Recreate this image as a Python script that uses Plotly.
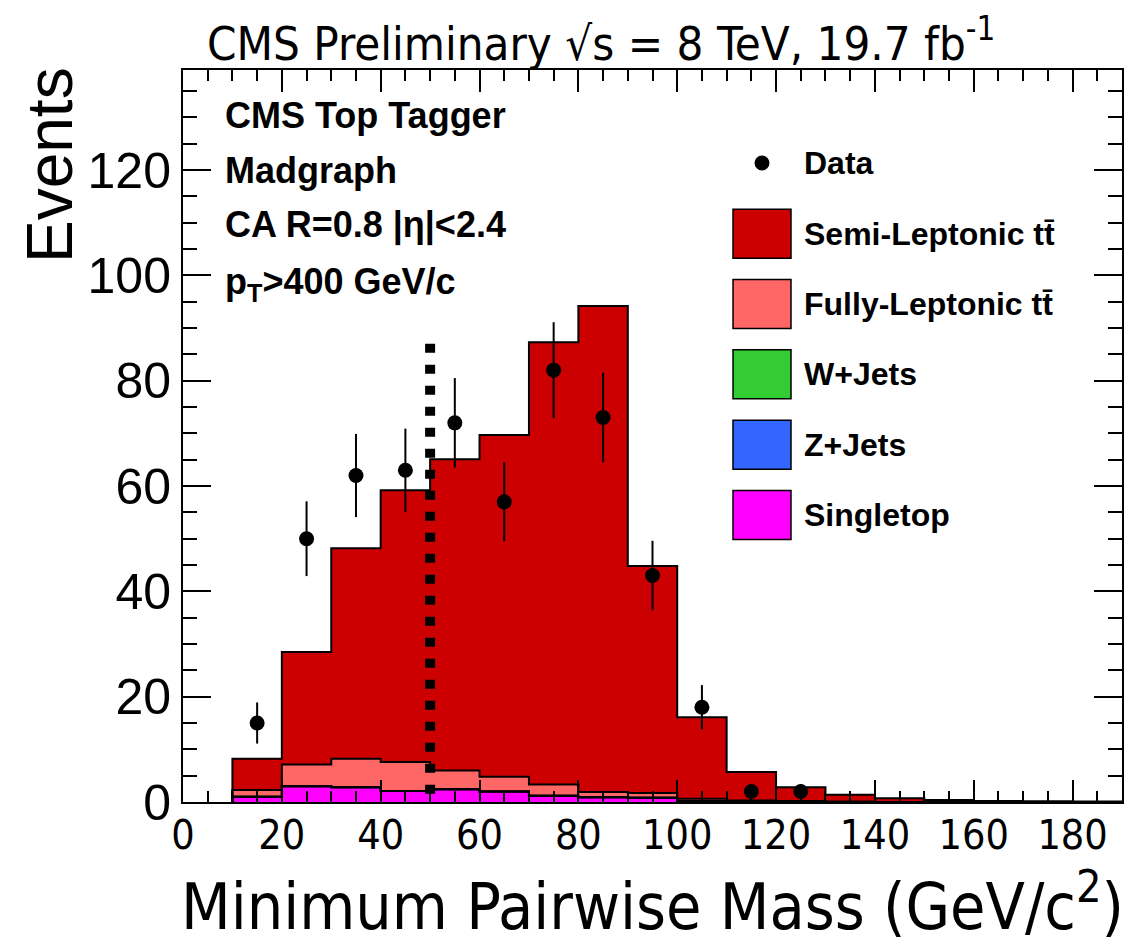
import numpy as np
import plotly.graph_objects as go

# ---------------- data ----------------
bin_edges = [10, 20, 30, 40, 50, 60, 70, 80, 90, 100, 110, 120, 130, 140, 150, 160, 170, 180, 190]
bin_centers = [15, 25, 35, 45, 55, 65, 75, 85, 95, 105, 115, 125, 135, 145, 155, 165, 175, 185]

semi_leptonic = [5.9, 21.4, 40.0, 51.6, 59.1, 64.9, 84.0, 92.3, 43.1, 15.5, 5.4, 2.6, 1.3, 0.7, 0.4, 0.2, 0.15, 0.1]
fully_leptonic = [1.3, 4.1, 5.4, 5.5, 3.6, 2.8, 2.1, 1.0, 0.9, 0.4, 0.2, 0.15, 0.1, 0.0, 0.0, 0.0, 0.0, 0.0]
w_jets = [0.0, 0.0, 0.0, 0.0, 0.0, 0.0, 0.0, 0.0, 0.0, 0.0, 0.0, 0.0, 0.0, 0.0, 0.0, 0.0, 0.0, 0.0]
z_jets = [0.0, 0.0, 0.0, 0.0, 0.0, 0.0, 0.0, 0.0, 0.0, 0.0, 0.0, 0.0, 0.0, 0.0, 0.0, 0.0, 0.0, 0.0]
single_top = [1.0, 3.0, 2.8, 2.1, 2.4, 2.0, 1.2, 0.9, 0.8, 0.2, 0.1, 0.05, 0.0, 0.0, 0.0, 0.0, 0.0, 0.0]

data_x = [15, 25, 35, 45, 55, 65, 75, 85, 95, 105, 115, 125]
data_y = [15, 50, 62, 63, 72, 57, 82, 73, 43, 18, 2, 2]
data_err = [3.9, 7.1, 7.9, 7.9, 8.5, 7.5, 9.1, 8.5, 6.6, 4.2, 1.4, 1.4]

cut_value = 50
cut_height = 87

x_range = [0, 190]
y_range = [0, 139]
x_ticks = [0, 20, 40, 60, 80, 100, 120, 140, 160, 180]
y_ticks = [0, 20, 40, 60, 80, 100, 120]

# stack order: bottom -> top
components = [
    ("Singletop", single_top, "#FF00FF"),
    ("Z+Jets", z_jets, "#3366FF"),
    ("W+Jets", w_jets, "#33CC33"),
    ("Fully-Leptonic t\u0074\u0304", fully_leptonic, "#FF6666"),
    ("Semi-Leptonic t\u0074\u0304", semi_leptonic, "#CC0000"),
]

# ---------------- geometry helpers (layout only) ----------------
W, H = 1135, 943
ML, MR, MT, MB = 183, 13, 70, 141
PW, PH = W - ML - MR, H - MT - MB


def xp(px):
    return (px - ML) / PW


def yp(py):
    return (H - MB - py) / PH


NARROW = "Liberation Sans Narrow, Arial Narrow, DejaVu Sans Condensed, Liberation Sans, Arial, sans-serif"
REG = "Liberation Sans, Arial, Helvetica, sans-serif"

fig = go.Figure()

# stacked filled bars
for name, vals, col in components:
    fig.add_trace(go.Bar(x=bin_centers, y=vals, width=10, name=name,
                         marker=dict(color=col, line=dict(width=0)),
                         showlegend=False, hoverinfo="skip"))

# step outlines of the cumulative stack
cum = np.zeros(len(bin_centers))
for name, vals, col in components:
    cum = cum + np.array(vals)
    xs = [bin_edges[0]] + list(bin_edges[:-1]) + [bin_edges[-1], bin_edges[-1]]
    ys = [0] + list(cum) + [cum[-1], 0]
    fig.add_trace(go.Scatter(x=xs, y=ys, mode="lines", line=dict(color="black", width=2, shape="hv"),
                             showlegend=False, hoverinfo="skip"))

# data points
fig.add_trace(go.Scatter(x=data_x, y=data_y, mode="markers", name="Data",
                         marker=dict(color="black", size=15),
                         error_y=dict(type="data", array=data_err, color="black", thickness=2, width=0),
                         showlegend=False))

shapes = []
# cut line
shapes.append(dict(type="line", xref="x", yref="y", x0=cut_value, x1=cut_value, y0=cut_height, y1=0,
                   line=dict(color="black", width=10, dash="9px,12px")))

# manual legend
leg_box_x0, leg_box_x1 = 733, 791
leg_text_x = 802
leg_rows_y = [233.7, 304, 374.3, 444.7, 515]
box_h = 49
leg_items = list(reversed(components))  # top of legend = Semi-Leptonic
annotations = []
for (name, vals, col), cy in zip(leg_items, leg_rows_y):
    shapes.append(dict(type="rect", xref="paper", yref="paper",
                       x0=xp(leg_box_x0), x1=xp(leg_box_x1), y0=yp(cy + box_h / 2), y1=yp(cy - box_h / 2),
                       fillcolor=col, line=dict(color="black", width=1.5), layer="above"))
    annotations.append(dict(xref="paper", yref="paper", x=xp(leg_text_x), y=yp(cy), text="<b>%s</b>" % name,
                            showarrow=False, xanchor="left", yanchor="middle",
                            font=dict(family=REG, size=32, color="black")))
# data legend entry
dot_cx, dot_cy, dot_r = 762, 163, 7.5
shapes.append(dict(type="circle", xref="paper", yref="paper",
                   x0=xp(dot_cx - dot_r), x1=xp(dot_cx + dot_r), y0=yp(dot_cy + dot_r), y1=yp(dot_cy - dot_r),
                   fillcolor="black", line=dict(color="black", width=0)))
annotations.append(dict(xref="paper", yref="paper", x=xp(leg_text_x), y=yp(dot_cy), text="<b>Data</b>",
                        showarrow=False, xanchor="left", yanchor="middle",
                        font=dict(family=REG, size=32, color="black")))

# info text
info_lines = ["CMS Top Tagger", "Madgraph", "CA R=0.8 |η|<2.4", "p<sub>T</sub>>400 GeV/c"]
info_y = [115, 170, 225, 284]
for t, cy in zip(info_lines, info_y):
    annotations.append(dict(xref="paper", yref="paper", x=xp(223), y=yp(cy), text="<b>%s</b>" % t,
                            showarrow=False, xanchor="left", yanchor="middle",
                            font=dict(family=REG, size=36, color="black")))

# title
annotations.append(dict(xref="paper", yref="paper", x=xp(601), y=yp(40),
                        text="CMS Preliminary √s = 8 TeV, 19.7 fb<sup>-1</sup>",
                        showarrow=False, xanchor="center", yanchor="middle",
                        font=dict(family=NARROW, size=47, color="black")))
# x axis title
annotations.append(dict(xref="paper", yref="paper", x=xp(1126), y=yp(902),
                        text="Minimum Pairwise Mass (GeV/c<sup>2</sup>)",
                        showarrow=False, xanchor="right", yanchor="middle",
                        font=dict(family=NARROW, size=64, color="black")))
# y axis title
annotations.append(dict(xref="paper", yref="paper", x=xp(50), y=yp(165), text="Events", textangle=-90,
                        showarrow=False, xanchor="center", yanchor="middle",
                        font=dict(family=REG, size=64, color="black")))

fig.update_layout(
    width=W, height=H,
    margin=dict(l=ML, r=MR, t=MT, b=MB, pad=0),
    barmode="stack", bargap=0,
    plot_bgcolor="white", paper_bgcolor="white",
    shapes=shapes, annotations=annotations,
    showlegend=False,
)
fig.update_xaxes(range=x_range, tickvals=x_ticks, ticktext=[str(v) for v in x_ticks],
                 ticks="inside", ticklen=22, tickwidth=2, tickcolor="black",
                 minor=dict(ticks="inside", ticklen=11, tickwidth=2, dtick=5, tick0=0, tickcolor="black"),
                 showline=True, linewidth=2, linecolor="black", mirror="allticks",
                 showgrid=False, zeroline=False, ticklabelstandoff=-4,
                 tickfont=dict(family=NARROW, size=41, color="black"))
fig.update_yaxes(range=y_range, tickvals=y_ticks, ticktext=[str(v) for v in y_ticks],
                 ticks="inside", ticklen=28, tickwidth=2, tickcolor="black",
                 minor=dict(ticks="inside", ticklen=14, tickwidth=2, dtick=5, tick0=0, tickcolor="black"),
                 showline=True, linewidth=2, linecolor="black", mirror="allticks",
                 showgrid=False, zeroline=False,
                 tickfont=dict(family=REG, size=50, color="black"))

fig.write_html("out.html")
